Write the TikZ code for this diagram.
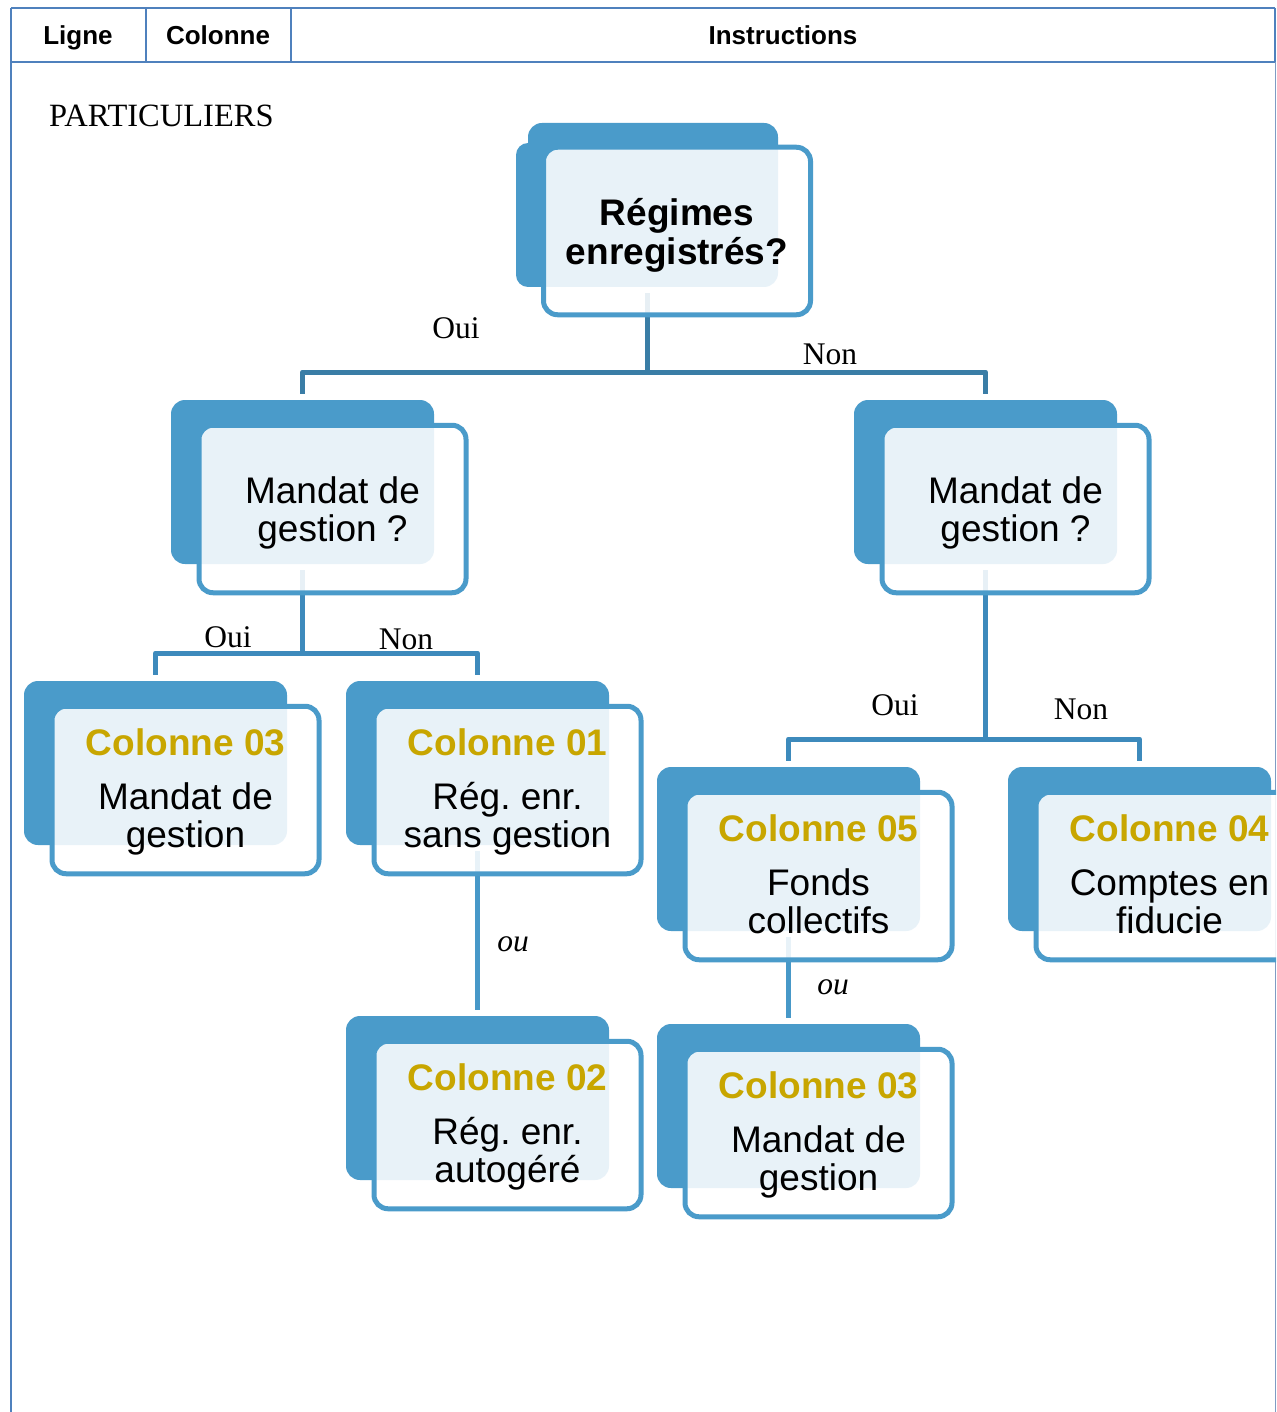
\documentclass[tikz,border=0pt]{standalone}
\usepackage{fontspec}
\setmainfont{Liberation Serif}
\newfontfamily\arialf{Liberation Sans}
\usetikzlibrary{calc}
\frenchspacing
\definecolor{tblblue}{HTML}{4F81BD}
\definecolor{tblthin}{HTML}{7F9CC4}
\definecolor{boxblue}{HTML}{4A9BCA}
\definecolor{conntop}{HTML}{3A7DA6}
\definecolor{connmid}{HTML}{3D8ABC}
\definecolor{connlow}{HTML}{4798C8}
\definecolor{gold}{HTML}{C8A600}
\pgfdeclarelayer{bg}
\pgfsetlayers{bg,main}
\tikzset{
  tline/.style={draw=tblblue, line width=2.5pt},
  darkbox/.style={fill=boxblue, rounded corners=14pt, minimum width=263pt, minimum height=164pt, inner sep=0pt},
  anchorbox/.style={minimum width=262pt, minimum height=164pt, inner sep=0pt},
  outbox/.style={draw=boxblue, line width=5pt, fill=white, fill opacity=0.88, text opacity=1, rounded corners=14pt, minimum width=267pt, minimum height=167.5pt, inner sep=0pt},
  btxt/.style={font=\arialf\fontsize{37}{39}\selectfont, inner sep=0pt, anchor=base},
  bbold/.style={font=\arialf\bfseries\fontsize{37}{39}\selectfont, inner sep=0pt, anchor=base},
  ttl/.style={font=\arialf\bfseries\fontsize{37}{39}\selectfont, text=gold, inner sep=0pt, anchor=base},
  hdr/.style={font=\arialf\bfseries\fontsize{26}{30}\selectfont, inner sep=0pt, anchor=base},
  lbl/.style={font=\fontsize{31.5}{36}\selectfont, inner sep=0pt, anchor=base},
  conn/.style={line width=5pt, line join=round},
}
\newcommand\mybox[3]{%
  \node[darkbox] (#1d) at (#2+131.5,#3+82) {};
  \node[outbox] (#1) at (#2+161.5,#3+109) {};
}
\newcommand\colbox[6]{%
  \mybox{#1}{#2}{#3}
  \node[ttl] (#1-t) at ([yshift=35pt]#1.center) {#4};
  \node[btxt] (#1-a) at ([yshift=-19pt]#1.center) {#5};
  \node[btxt] (#1-b) at ([yshift=-57pt]#1.center) {#6};
}
\begin{document}
\begin{tikzpicture}[x=1pt,y=-1pt]
\useasboundingbox (0,0) rectangle (1276,1412);
\clip (0,0) rectangle (1276,1412);

% table frame
\draw[tline] (11,8) -- (1275,8);
\draw[tline] (11,62) -- (1275,62);
\draw[tline] (146,8) -- (146,62);
\draw[tline] (291,8) -- (291,62);
\draw[tline] (11,8) -- (11,1412);
\draw[draw=tblblue, line width=2pt] (1275,8) -- (1275,62);
\draw[draw=tblthin, line width=1pt] (1275,62) -- (1275,1412);
\node[hdr] (h1) at (78,45) {Ligne};
\node[hdr] (h2) at (218,45) {Colonne};
\node[hdr] (h3) at (783,45) {Instructions};
\node[lbl, anchor=base west, font=\fontsize{32.5}{36}\selectfont] (part) at (49,127) {PARTICULIERS};

% top box
\node[anchorbox] (topd) at (647,205) {};
\fill[boxblue, rounded corners=14pt] (528,123) rectangle (778,287);
\fill[boxblue, rounded corners=12pt] (516,143) rectangle (600,287);
\node[outbox] (top) at (677,231) {};
\node[bbold] (top-a) at ([yshift=5pt]top.center) {Régimes};
\node[bbold] (top-b) at ([yshift=-34pt]top.center) {enregistrés?};

% second level
\mybox{mandL}{171}{400}
\node[btxt] (mandL-a) at ([yshift=6pt]mandL.center) {Mandat de};
\node[btxt] (mandL-b) at ([yshift=-32pt]mandL.center) {gestion ?};
\mybox{mandR}{854}{400}
\node[btxt] (mandR-a) at ([yshift=6pt]mandR.center) {Mandat de};
\node[btxt] (mandR-b) at ([yshift=-32pt]mandR.center) {gestion ?};

% leaves
\colbox{cTroisL}{24}{681}{Colonne 03}{Mandat de}{gestion}
\colbox{cUn}{346}{681}{Colonne 01}{Rég. enr.}{sans gestion}
\colbox{cDeux}{346}{1016}{Colonne 02}{Rég. enr.}{autogéré}
\colbox{cCinq}{657}{767}{Colonne 05}{Fonds}{collectifs}
\colbox{cTroisR}{657}{1024}{Colonne 03}{Mandat de}{gestion}
\colbox{cQuatre}{1008}{767}{Colonne 04}{Comptes en}{fiducie}

% connectors (behind the boxes)
\coordinate (b1) at (647,372);
\coordinate (b2) at (302.5,653);
\coordinate (b3) at (985.5,739);
\begin{pgfonlayer}{bg}
\fill[white] (0,0) rectangle (1276,1412);
\draw[conn, conntop] ([yshift=-6pt]topd.south) -- (b1) -| ([yshift=6pt]mandLd.north);
\draw[conn, conntop] (b1) -| ([yshift=6pt]mandRd.north);
\draw[conn, connmid] ([yshift=-6pt]mandLd.south) -- (b2) -| ([yshift=6pt]cTroisLd.north);
\draw[conn, connmid] (b2) -| ([yshift=6pt]cUnd.north);
\draw[conn, connmid] ([yshift=-6pt]mandRd.south) -- (b3) -| ([yshift=6pt]cCinqd.north);
\draw[conn, connmid] (b3) -| ([yshift=6pt]cQuatred.north);
\draw[conn, connlow] ([yshift=-6pt]cUnd.south) -- ([yshift=6pt]cDeuxd.north);
\draw[conn, connlow] ([yshift=-6pt]cCinqd.south) -- ([yshift=6pt]cTroisRd.north);
\end{pgfonlayer}

% labels
\node[lbl] (l1) at (456,338) {Oui};
\node[lbl] (l2) at (830,364) {Non};
\node[lbl] (l3) at (228,647) {Oui};
\node[lbl] (l4) at (406,649) {Non};
\node[lbl] (l5) at (895,715) {Oui};
\node[lbl] (l6) at (1081,719) {Non};
\node[lbl, font=\itshape\fontsize{31.5}{36}\selectfont] (o1) at (513,951) {ou};
\node[lbl, font=\itshape\fontsize{31.5}{36}\selectfont] (o2) at (833,994) {ou};
\end{tikzpicture}
\end{document}
